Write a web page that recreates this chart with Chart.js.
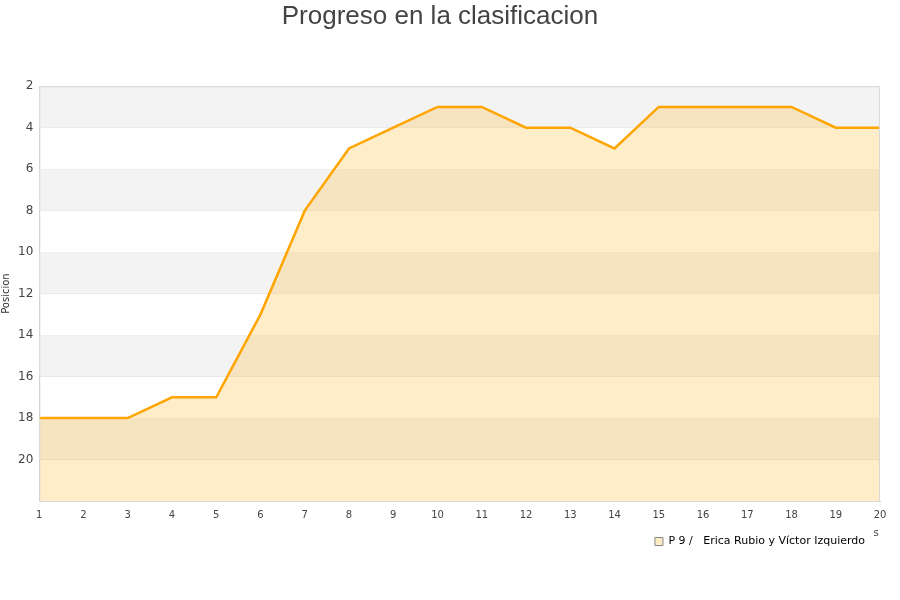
<!DOCTYPE html>
<html><head><meta charset="utf-8">
<script src="https://cdn.jsdelivr.net/npm/chart.js@4"></script>
<style>html,body{margin:0;padding:0;background:#fff}#wrap{width:900px;height:600px}</style>
</head><body><div id="wrap"><canvas id="c" width="900" height="600"></canvas></div>
<script>
const titleText = "Progreso en la clasificacion";
const seriesLabel = "P 9 /   Erica Rubio y Víctor Izquierdo";
const xTitle = "s";
const rounds = ["1","2","3","4","5","6","7","8","9","10","11","12","13","14","15","16","17","18","19","20"];
const positions = [18,18,18,17,17,13,8,5,4,3,3,4,4,5,3,3,3,3,4,4];
const yTicks = [2,4,6,8,10,12,14,16,18,20];

const bands = {
  id:'bands',
  beforeDatasetsDraw(chart){
    const {ctx, chartArea:a, scales:{y}} = chart;
    ctx.save();
    ctx.fillStyle = '#f3f3f3';
    for (let v = 2; v < 22; v += 4) {
      const t = y.getPixelForValue(v), b = y.getPixelForValue(v+2);
      ctx.fillRect(a.left, t, a.right-a.left, b-t);
    }
    ctx.restore();
  }
};
const border = {
  id:'border',
  afterDatasetsDraw(chart){
    const {ctx, chartArea:a} = chart;
    ctx.save();
    ctx.strokeStyle='#d8d8d8'; ctx.lineWidth=1;
    ctx.strokeRect(a.left+0.5, a.top+0.5, a.right-a.left-1, a.bottom-a.top);
    ctx.fillStyle='#444'; ctx.font='10px "DejaVu Sans"'; ctx.textAlign='center';
    ctx.fillText(xTitle, 876, 533);
    ctx.restore();
  }
};

new Chart(document.getElementById('c'), {
  type:'line',
  data:{labels:rounds, datasets:[{
    label:seriesLabel, data:positions,
    borderColor:'#ffa500', borderWidth:2.5,
    backgroundColor:'rgba(255,180,40,0.25)',
    fill:'start', pointRadius:0, tension:0
  }]},
  options:{
    responsive:false, animation:false,
    layout:{padding:{left:0,right:20,top:1,bottom:43}},
    plugins:{
      title:{display:true,text:titleText,color:'#444',font:{family:'Liberation Sans',size:26,weight:'normal'},padding:{top:0,bottom:54}},
      legend:{position:'bottom',align:'end',labels:{boxWidth:8,boxHeight:8,padding:15,color:'#111',font:{family:'DejaVu Sans',size:11},
        generateLabels(chart){return [{text:seriesLabel,fillStyle:'#ffecc4',strokeStyle:'#888',lineWidth:1,datasetIndex:0}];}}},
      tooltip:{enabled:false}
    },
    scales:{
      x:{type:'category',offset:false,grid:{display:false},border:{color:'#ccc'},
        afterFit(s){s.paddingRight = 0;},
        ticks:{color:'#444',font:{family:'DejaVu Sans',size:10},maxRotation:0,autoSkip:false,padding:0}},
      y:{reverse:true,min:2,max:22,
        afterBuildTicks(s){s.ticks = yTicks.map(v=>({value:v}));},
        grid:{color:'#dddddd',drawTicks:false},border:{color:'#ccc'},
        ticks:{color:'#444',font:{family:'DejaVu Sans',size:12},padding:6},
        title:{display:true,text:'Posicion',color:'#333',font:{family:'DejaVu Sans',size:10},padding:{top:0,bottom:0}}}
    }
  },
  plugins:[bands,border]
});
</script></body></html>
